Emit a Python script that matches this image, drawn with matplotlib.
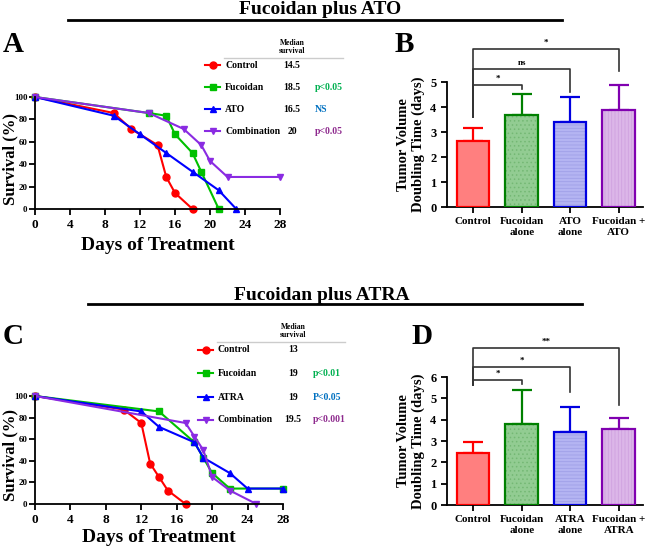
import matplotlib
matplotlib.use("Agg")
import matplotlib.pyplot as plt
from matplotlib.lines import Line2D
import numpy as np

plt.rcParams['font.family'] = ['Liberation Serif', 'DejaVu Serif']
plt.rcParams['font.weight'] = 'bold'
plt.rcParams['hatch.linewidth'] = 0.6

W, H = 650, 551

# ---------------- DATA ----------------
# Panel A survival (Fucoidan plus ATO)
a_ctrl_x = [0, 9, 11, 14, 15, 16, 18]
a_ctrl_y = [100, 85.7, 71.4, 57.1, 28.6, 14.3, 0]
a_fuc_x = [0, 13, 15, 16, 18, 19, 21]
a_fuc_y = [100, 85.7, 83.3, 66.7, 50, 33.3, 0]
a_ato_x = [0, 9, 12, 15, 18, 21, 23]
a_ato_y = [100, 83.3, 66.7, 50, 33.3, 16.7, 0]
a_comb_x = [0, 13, 17, 19, 20, 22, 28]
a_comb_y = [100, 85.7, 71.4, 57.1, 42.9, 28.6, 28.6]
a_groups = ["Control", "Fucoidan", "ATO", "Combination"]
a_medians = ["14.5", "18.5", "16.5", "20"]
a_pvals = ["", "p<0.05", "NS", "p<0.05"]

# Panel C survival (Fucoidan plus ATRA)
c_ctrl_x = [0, 10, 12, 13, 14, 15, 17]
c_ctrl_y = [100, 87.5, 75, 37.5, 25, 12.5, 0]
c_fuc_x = [0, 14, 18, 19, 20, 22, 28]
c_fuc_y = [100, 85.7, 57.1, 42.9, 28.6, 14.3, 14.3]
c_atra_x = [0, 12, 14, 18, 19, 22, 24, 28]
c_atra_y = [100, 85.7, 71.4, 57.1, 42.9, 28.6, 14.3, 14.3]
c_comb_x = [0, 17, 18, 19, 20, 22, 25]
c_comb_y = [100, 75, 62.5, 50, 25, 12.5, 0]
c_groups = ["Control", "Fucoidan", "ATRA", "Combination"]
c_medians = ["13", "19", "19", "19.5"]
c_pvals = ["", "p<0.01", "P<0.05", "p<0.001"]

# Panel B bars
b_labels = ["Control", "Fucoidan\nalone", "ATO\nalone", "Fucoidan +\nATO"]
b_means = [2.65, 3.70, 3.42, 3.87]
b_upper = [3.15, 4.52, 4.42, 4.87]
# significance brackets: (i, j, bar height, left drop, right drop, label)
b_sig = [(0, 1, 4.88, 3.62, 4.72, "*"),
         (0, 2, 5.52, 3.62, 4.62, "ns"),
         (0, 3, 6.32, 3.62, 5.45, "*")]

# Panel D bars
d_labels = ["Control", "Fucoidan\nalone", "ATRA\nalone", "Fucoidan +\nATRA"]
d_means = [2.43, 3.80, 3.43, 3.58]
d_upper = [2.97, 5.38, 4.60, 4.07]
d_sig = [(0, 1, 5.87, 5.62, 5.65, "*"),
         (0, 2, 6.48, 5.62, 5.30, "*"),
         (0, 3, 7.37, 5.62, 4.70, "**")]

# ---------------- STYLE ----------------
RED, GREEN, BLUE, PURPLE = "#ff0000", "#00c000", "#0000ff", "#8a2be2"
edge_cols = ["#ff0000", "#008000", "#0000e0", "#8000b0"]
fill_cols = ["#ff7f7f", "#92cc92", "#b4b4f2", "#dcb6e8"]
hatch_cols = ["#ff7f7f", "#74b874", "#a0a0e8", "#cfa2df"]
hatches = [None, "....", "-----", "|||||"]
p_cols = ["k", "#00b050", "#0070c0", "#8e2a8e"]

fig = plt.figure(figsize=(W / 100, H / 100), dpi=100)


def ax_px(l, t, r, b):
    return fig.add_axes([l / W, 1 - b / H, (r - l) / W, (b - t) / H])


def fx(x):
    return x / W


def fy(y):
    return 1 - y / H


def style_axes(ax):
    for s in ["top", "right"]:
        ax.spines[s].set_visible(False)
    for s in ["left", "bottom"]:
        ax.spines[s].set_linewidth(1.3)
    ax.tick_params(width=1.3, length=4)


def survival(ax, series, xlabel_y):
    for (x, y, c, m) in series:
        ax.plot(x, y, color=c, marker=m, markersize=5, lw=1.5, clip_on=False)
    ax.set_xlim(0, 28)
    ax.set_ylim(0, 100)
    ax.set_xticks(np.arange(0, 29, 4))
    ax.set_yticks(np.arange(0, 101, 20))
    style_axes(ax)
    ax.tick_params(axis='y', pad=1.5)
    for t in ax.get_xticklabels():
        t.set_fontsize(9.5)
        t.set_fontweight('bold')
    for t in ax.get_yticklabels():
        t.set_fontsize(6.5)
        t.set_fontweight('bold')
    ax.set_ylabel("Survival (%)", fontsize=12, fontweight='bold')
    l, b, w, h = ax.get_position().bounds
    ax.yaxis.set_label_coords((18.5 / W - l) / w, 0.45)
    ax.set_xlabel("Days of Treatment", fontsize=14, fontweight='bold')
    ax.xaxis.set_label_coords(0.5, (fy(xlabel_y) - b) / h)
    ax.xaxis.label.set_va('center')


def legend_table(groups, colors, markers, medians, pvals, ys, mx0, mx1, tx, medx, px, hdr_y, line_y, line_x0, line_x1):
    fig.text(fx(medx), fy(hdr_y), "Median\nsurvival", ha='center', va='center', fontsize=5.5, fontweight='bold', linespacing=1.1)
    fig.add_artist(Line2D([fx(line_x0), fx(line_x1)], [fy(line_y), fy(line_y)], color="#cccccc", lw=1, transform=fig.transFigure))
    for g, c, m, md, p, pc, y in zip(groups, colors, markers, medians, pvals, p_cols, ys):
        fig.add_artist(Line2D([fx(mx0), fx(mx1)], [fy(y), fy(y)], color=c, lw=1.5, transform=fig.transFigure))
        fig.add_artist(Line2D([fx((mx0 + mx1) / 2)], [fy(y)], color=c, marker=m, markersize=5, lw=0, transform=fig.transFigure))
        fig.text(fx(tx), fy(y), g, ha='left', va='center', fontsize=7, fontweight='bold')
        fig.text(fx(medx), fy(y), md, ha='center', va='center', fontsize=7, fontweight='bold')
        if p:
            fig.text(fx(px), fy(y), p, ha='left', va='center', fontsize=7, fontweight='bold', color=pc)


def bars(ax, labels, means, upper, sig, ymax, yticks):
    x = np.arange(len(means))
    err = np.array(upper) - np.array(means)
    for i in range(len(means)):
        ax.bar(x[i], means[i], width=0.67, color=fill_cols[i], hatch=hatches[i], edgecolor=hatch_cols[i], lw=0, zorder=2)
        ax.bar(x[i], means[i], width=0.67, fill=False, edgecolor=edge_cols[i], lw=1.6, zorder=3)
        ax.errorbar(x[i], means[i], yerr=[[0], [err[i]]], fmt='none', ecolor=edge_cols[i], elinewidth=1.6, capsize=7, capthick=1.6, zorder=1)
    ax.set_xlim(-0.54, 3.5)
    ax.set_ylim(0, ymax)
    ax.set_yticks(yticks)
    ax.set_xticks(x)
    ax.set_xticklabels(labels, fontsize=8, fontweight='bold', linespacing=1.2)
    style_axes(ax)
    for t in ax.get_yticklabels():
        t.set_fontsize(9)
        t.set_fontweight('bold')
    ax.set_ylabel("Tumor Volume\nDoubling Time (days)", fontsize=10.5, fontweight='bold', linespacing=1.1)
    for (i, j, h, lb, rb, lab) in sig:
        ax.plot([x[i], x[i], x[j], x[j]], [lb, h, h, rb], color='#333333', lw=1.2, clip_on=False)
        ax.text((x[i] + x[j]) / 2, h + 0.08 * ymax / 5, lab, ha='center', va='bottom', fontsize=6.5, fontweight='bold')


# ---------------- TITLES ----------------
fig.text(fx(320), fy(10), "Fucoidan plus ATO", ha='center', va='center', fontsize=14, fontweight='bold')
fig.add_artist(Line2D([fx(68), fx(562)], [fy(19.5), fy(19.5)], color='k', lw=2, transform=fig.transFigure))
fig.text(fx(322), fy(296), "Fucoidan plus ATRA", ha='center', va='center', fontsize=14, fontweight='bold')
fig.add_artist(Line2D([fx(88), fx(582)], [fy(303.5), fy(303.5)], color='k', lw=2, transform=fig.transFigure))

for lab, (x, y) in zip("ABCD", [(3, 45), (395, 45), (3, 336), (411, 336)]):
    fig.text(fx(x), fy(y), lab, ha='left', va='center', fontsize=21, fontweight='bold')

markers = ['o', 's', '^', 'v']
cols = [RED, GREEN, BLUE, PURPLE]

# ---------------- PANEL A ----------------
axA = ax_px(35, 97, 280, 209)
survival(axA, [(a_ctrl_x, a_ctrl_y, RED, 'o'), (a_fuc_x, a_fuc_y, GREEN, 's'),
               (a_ato_x, a_ato_y, BLUE, '^'), (a_comb_x, a_comb_y, PURPLE, 'v')], 246)
legend_table(a_groups, cols, markers, a_medians, a_pvals, [65, 87, 109, 131],
             205, 220, 225, 292, 315, 47, 58, 224, 343)

# ---------------- PANEL C ----------------
axC = ax_px(35, 396, 283, 504)
survival(axC, [(c_ctrl_x, c_ctrl_y, RED, 'o'), (c_fuc_x, c_fuc_y, GREEN, 's'),
               (c_atra_x, c_atra_y, BLUE, '^'), (c_comb_x, c_comb_y, PURPLE, 'v')], 537)
legend_table(c_groups, cols, markers, c_medians, c_pvals, [350, 373, 397, 420],
             198, 213, 218, 293, 313, 331, 342, 217, 345)

# ---------------- PANEL B ----------------
axB = ax_px(447, 82, 643, 207)
bars(axB, b_labels, b_means, b_upper, b_sig, 5, np.arange(0, 6, 1))

# ---------------- PANEL D ----------------
axD = ax_px(447, 377, 643, 505)
bars(axD, d_labels, d_means, d_upper, d_sig, 6, np.arange(0, 7, 1))

fig.savefig("out.png", dpi=100)
